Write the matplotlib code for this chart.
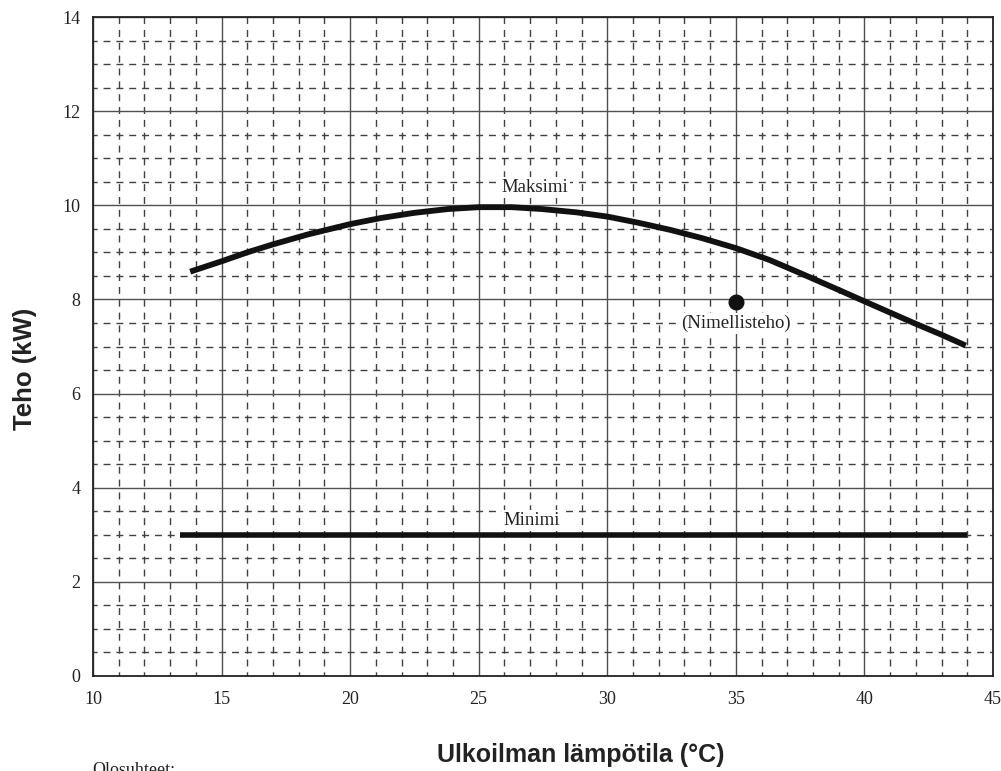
import matplotlib
matplotlib.use("Agg")
import matplotlib.pyplot as plt
from matplotlib.ticker import MultipleLocator

# Data
max_x = [13.78, 15.0, 16.0, 17.0, 18.35, 20.0, 21.2, 22.5, 23.8, 25.0, 26.28, 27.46,
         28.8, 30.0, 31.2, 32.43, 33.7, 35.0, 36.3, 37.5, 38.8, 40.0, 41.0, 41.96, 43.0, 43.94]
max_y = [8.59, 8.81, 9.00, 9.17, 9.38, 9.60, 9.73, 9.84, 9.92, 9.96, 9.96, 9.92,
         9.85, 9.76, 9.63, 9.48, 9.30, 9.09, 8.84, 8.56, 8.25, 7.96, 7.72, 7.49, 7.25, 7.02]
min_x = [13.4, 44.0]
min_y = [3.0, 3.0]
nominal_x = [35.0]
nominal_y = [7.95]
x_ticks = [10, 15, 20, 25, 30, 35, 40, 45]
y_ticks = [0, 2, 4, 6, 8, 10, 12, 14]

fig = plt.figure(figsize=(10.01, 7.71), dpi=100)
ax = fig.add_axes([93/1001, 1-676/771, 900/1001, 659/771])
ax.set_xlim(10, 45)
ax.set_ylim(0, 14)

# grid
ax.xaxis.set_major_locator(MultipleLocator(5))
ax.yaxis.set_major_locator(MultipleLocator(2))
ax.xaxis.set_minor_locator(MultipleLocator(1))
ax.yaxis.set_minor_locator(MultipleLocator(0.5))
ax.grid(which='major', color='#505050', linewidth=1.0, linestyle='-')
ax.grid(which='minor', color='#404040', linewidth=1.0, linestyle=(2.0, (5.0, 4.25)))
ax.set_axisbelow(True)
ax.tick_params(which='both', length=0)
ax.tick_params(axis='x', pad=11)
ax.tick_params(axis='y', pad=9)
ax.set_xticks(x_ticks)
ax.set_yticks(y_ticks)
for lab in ax.get_xticklabels() + ax.get_yticklabels():
    lab.set_fontfamily('Liberation Serif')
    lab.set_fontsize(13)
    lab.set_color('#222222')
for s in ax.spines.values():
    s.set_color('#222222')
    s.set_linewidth(1.3)

# Curves
ax.plot(max_x, max_y, color='#111111', linewidth=4.2, solid_capstyle='butt',
        solid_joinstyle='round', zorder=3)
ax.plot(min_x, min_y, color='#111111', linewidth=4.0, solid_capstyle='butt', zorder=3)
ax.plot(nominal_x, nominal_y, 'o', color='#111111', markersize=10.5, zorder=4)

box = dict(facecolor='white', edgecolor='none', pad=1.5)
ax.text(27.17, 10.37, 'Maksimi', ha='center', va='center', fontsize=13.5,
        fontfamily='Liberation Serif', color='#222222', bbox=box, zorder=2.5)
ax.text(27.07, 3.3, 'Minimi', ha='center', va='center', fontsize=13.5,
        fontfamily='Liberation Serif', color='#222222', bbox=box, zorder=2.5)
ax.text(35.0, 7.49, '(Nimellisteho)', ha='center', va='center', fontsize=13.5,
        fontfamily='Liberation Serif', color='#222222', bbox=box, zorder=2.5)

fig.text(25/1001, 1-369/771, 'Teho (kW)', rotation=90, ha='center', va='center',
         fontsize=18.5, fontweight='bold', fontfamily='Liberation Sans', color='#222222')
fig.text(581/1001, 1-762/771, 'Ulkoilman lämpötila (°C)', ha='center', va='baseline',
         fontsize=18, fontweight='bold', fontfamily='Liberation Sans', color='#222222')
fig.text(92/1001, 1-762/771, 'Olosuhteet:', ha='left', va='top',
         fontsize=13, fontfamily='Liberation Serif', color='#222222')

fig.savefig('out.png', dpi=100)
